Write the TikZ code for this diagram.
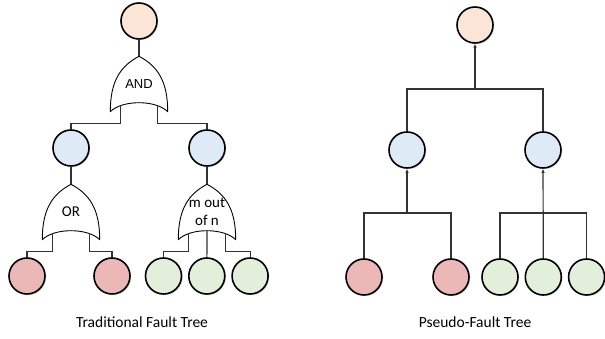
\documentclass[tikz,border=0pt]{standalone}
\usepackage{fontspec}
\setmainfont{Carlito}
\newfontfamily\gatefont{Liberation Sans}
\usetikzlibrary{arrows.meta, positioning, calc, shadows}

\definecolor{topfill}{HTML}{FBE5D6}
\definecolor{midfill}{HTML}{DEEBF7}
\definecolor{redfill}{HTML}{ECB7B7}
\definecolor{greenfill}{HTML}{E2EFDA}
\definecolor{wire}{HTML}{333333}

% gate outline drawn over an empty gate node, plus its input points
\newcommand{\gateshape}[1]{%
  \draw[gateline] (#1.south west) .. controls +(0,30) and +(-19,-10) .. (#1.north)
    .. controls +(19,-10) and +(0,30) .. (#1.south east)
    .. controls +(-12,12) and +(12,12) .. (#1.south west) -- cycle;
  \coordinate (#1-l) at ($(#1.south)+(-18.5,6.5)$);
  \coordinate (#1-m) at ($(#1.south)+(0,9)$);
  \coordinate (#1-r) at ($(#1.south)+(18.5,6.5)$);
}

\begin{document}
\begin{tikzpicture}[
    x=1pt, y=1pt,
    event/.style={circle, draw, line width=1.6pt, minimum size=36pt, inner sep=0pt,
        drop shadow={opacity=0.3, shadow xshift=1.2pt, shadow yshift=-1.2pt}},
    topev/.style={event, fill=topfill},
    midev/.style={event, fill=midfill},
    redev/.style={event, fill=redfill},
    greenev/.style={event, fill=greenfill},
    gate/.style={minimum width=57pt, minimum height=55pt, inner sep=0pt, align=center, font=\fontsize{15}{18}\selectfont},
    gateline/.style={line width=0.9pt, line join=round},
    wire/.style={draw=wire, line width=1.2pt},
    arrow/.style={wire, -{Latex[length=4pt, width=3.5pt]}},
    title/.style={anchor=base, font=\fontsize{15.5}{18}\selectfont},
]
\useasboundingbox (0,0) rectangle (605,339);

% Traditional fault tree
\node[topev] (tf-top) at (139,318) {};
\node[gate, font=\gatefont\fontsize{13}{15}\selectfont] (tf-and) at (139,255) {AND};
\node[midev] (tf-b1) at (71,191) {};
\node[midev] (tf-b2) at (207,191) {};
\node[gate] (tf-or) at (71,127) {OR};
\node[gate] (tf-mn) at (207,127) {m out\\of n};
\node[redev] (tf-r1) at (27,63) {};
\node[redev] (tf-r2) at (112,63) {};
\node[greenev] (tf-g1) at (163.5,63) {};
\node[greenev, right=5.7pt of tf-g1] (tf-g2) {};
\node[greenev, right=5.7pt of tf-g2] (tf-g3) {};

\gateshape{tf-and}
\gateshape{tf-or}
\gateshape{tf-mn}

\draw[wire] (tf-top) -- (tf-and.north);
\draw[wire] (tf-and-l) -- ++(0,-18) -| (tf-b1);
\draw[wire] (tf-and-r) -- ++(0,-18) -| (tf-b2);
\draw[wire] (tf-b1) -- (tf-or.north);
\draw[wire] (tf-b2) -- (tf-mn.north);
\draw[wire] (tf-or-l) -- ++(0,-18) -| (tf-r1);
\draw[wire] (tf-or-r) -- ++(0,-18) -| (tf-r2);
\draw[wire] (tf-mn-l) -- ++(0,-18) -| (tf-g1);
\draw[wire] (tf-mn-m) -- (tf-g2);
\draw[wire] (tf-mn-r) -- ++(0,-18) -| (tf-g3);

\node[title] (tf-cap) at (142,11) {Traditional Fault Tree};

% Pseudo-fault tree
\node[topev] (pf-top) at (475,314) {};
\node[midev] (pf-b1) at (407,189) {};
\node[midev] (pf-b2) at (543,189) {};
\node[redev] (pf-r1) at (364,62) {};
\node[redev] (pf-r2) at (451,62) {};
\node[greenev] (pf-g1) at (500,62) {};
\node[greenev, right=5.7pt of pf-g1] (pf-g2) {};
\node[greenev, right=5.7pt of pf-g2] (pf-g3) {};

\coordinate (pf-j0) at (475,250);
\coordinate (pf-j1) at (407,126);
\coordinate (pf-j2) at (543,126);

\draw[wire] (pf-b1) |- (pf-j0) -| (pf-b2);
\draw[arrow] (pf-j0) -- (pf-top);
\draw[wire] (pf-r1) |- (pf-j1) -| (pf-r2);
\draw[arrow] (pf-j1) -- (pf-b1);
\draw[wire] (pf-g1) |- (pf-j2) -| (pf-g3);
\draw[arrow] (pf-g2) -- (pf-b2);

\node[title] (pf-cap) at (475,11) {Pseudo-Fault Tree};

\end{tikzpicture}
\end{document}
